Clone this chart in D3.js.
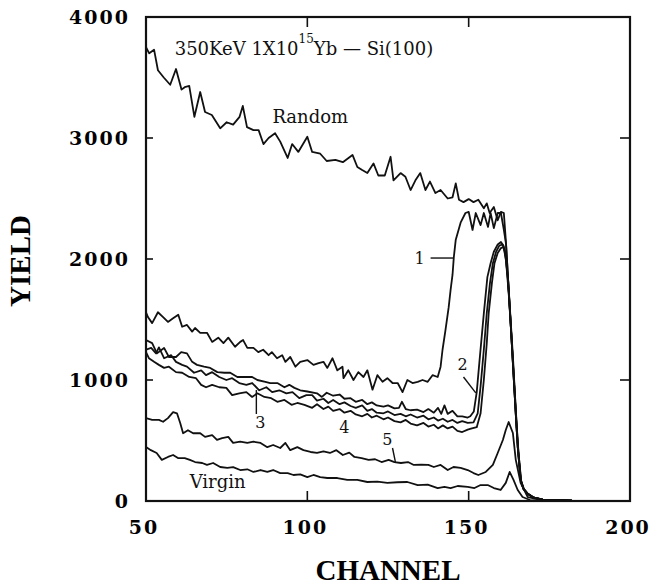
<!DOCTYPE html>
<html><head><meta charset="utf-8">
<script src="https://cdn.jsdelivr.net/npm/d3@7"></script>
<style>body{margin:0;background:#fff}</style>
</head><body><svg id="c" width="652" height="587"></svg>
<script>
const xTicks=[50,100,150,200];
const yTicks=[0,1000,2000,3000,4000];

const randomData=[[50,3750],[51,3700],[52.5,3730],[53.7,3560],[55.5,3500],[57.5,3440],[59.3,3570],[61,3400],[62,3420],[63.4,3430],[65,3175],[66.8,3380],[68.3,3215],[70.4,3190],[73,3080],[75,3130],[77,3110],[79,3175],[80,3265],[81.3,3090],[83.3,3065],[84.9,3065],[86.4,2950],[88,3000],[90,3040],[91.6,2970],[93.9,2835],[95.3,2950],[97.2,2885],[100,3010],[101.5,2885],[104,2870],[106,2810],[108.7,2820],[111,2800],[114,2860],[115.5,2760],[117,2735],[118.6,2710],[120.5,2790],[122,2690],[124,2690],[125.8,2845],[126.7,2650],[128.9,2710],[130.4,2680],[132,2570],[133.5,2650],[135,2710],[136.6,2570],[138,2640],[139.7,2545],[141.3,2570],[143.5,2500],[145,2510],[146,2625],[147,2490],[148.4,2470],[150,2495],[151.5,2470],[153,2490],[154.7,2420],[155.6,2460],[156.5,2380],[157.8,2430],[159,2320],[160,2390],[160.9,2380],[161.5,2160],[162.4,1750],[163.2,1380],[164,1000],[164.6,720],[165.2,450],[166.1,175],[167,100],[168.3,60],[170,30],[173,12],[182,3]];

const curve1Data=[[50,1560],[50.6,1520],[51.9,1470],[53.7,1560],[55.3,1520],[56.8,1480],[58.4,1510],[60,1540],[61.2,1440],[62.7,1455],[64.3,1400],[65.2,1430],[66.8,1390],[68.9,1390],[70.5,1315],[72.4,1350],[74,1305],[75.5,1350],[77.6,1275],[79.2,1315],[80.1,1330],[81.4,1265],[83.3,1265],[84.8,1230],[86.3,1250],[88,1205],[89,1230],[90.6,1180],[92.2,1205],[93.2,1150],[94.7,1190],[96.3,1110],[97.8,1150],[100,1165],[101.9,1125],[103.5,1140],[105,1150],[106.2,1100],[107.8,1180],[109.3,1080],[110.9,1110],[111.2,1015],[112.7,1080],[114.3,1000],[115.8,1065],[117.4,1025],[118.6,1080],[120.2,920],[121.7,1040],[123.3,985],[124.8,1015],[126.4,975],[128,975],[129.5,900],[131,1000],[132.6,975],[134.2,985],[135.7,1000],[137.3,985],[138.8,1040],[140.4,1025],[141.3,1110],[141.9,1250],[142.8,1410],[143.8,1600],[144.4,1745],[145,1870],[145.4,2015],[146,2160],[147.5,2300],[149,2380],[150,2390],[151.2,2240],[152.2,2380],[153.7,2280],[154.7,2380],[156,2265],[156.8,2380],[157.8,2255],[159,2380],[160,2380],[160.9,2240],[161.6,2120],[162.4,1750],[163.2,1380],[164,1000],[164.6,720],[165.2,450],[166.1,175],[167,100],[168.3,60],[170,30],[173,12],[182,3]];

const curve2Data=[[50,1330],[51.9,1305],[53.4,1220],[55.6,1265],[57.1,1190],[59.3,1190],[60.9,1230],[62.7,1220],[64.3,1150],[65.8,1125],[68,1110],[69.9,1100],[72.1,1065],[74.3,1060],[76.1,1060],[78.3,1025],[80.4,1025],[82.9,1025],[84.5,1000],[87,985],[88.5,975],[90.7,975],[92.9,940],[94.4,960],[96,935],[97.8,915],[100,905],[103,890],[104.5,860],[106,895],[108,870],[110,880],[111.5,845],[113.4,850],[115,820],[117,835],[118.6,800],[120,815],[121.5,790],[123.6,780],[125,790],[127,765],[128.4,770],[129.3,820],[130.5,760],[132,750],[134,755],[136,735],[137.5,760],[139.2,730],[140.5,770],[141.5,720],[142.5,790],[143.5,720],[145,745],[146.5,700],[148,700],[149.7,690],[150.5,700],[151.6,740],[152.5,900],[153.5,1200],[154.7,1550],[155.8,1850],[156.8,1965],[157.8,2060],[159,2120],[160,2140],[160.8,2110],[161.6,1980],[162.4,1720],[163.2,1380],[164,1000],[164.6,720],[165.2,450],[166.1,175],[167,100],[168.3,60],[170,30],[173,12],[182,3]];

const curve3Data=[[50,1250],[51.6,1265],[53.1,1220],[54,1270],[55.6,1180],[57.8,1205],[59.3,1150],[61.2,1125],[62.7,1110],[64.9,1060],[67.1,1080],[68.6,1040],[70.5,1065],[72.7,1025],[74.9,1000],[76.7,1015],[78.9,975],[81.1,960],[82.9,975],[85.1,915],[87.3,940],[89.1,900],[91.3,915],[93.5,890],[95.4,900],[97.5,850],[99.7,875],[101.5,875],[103,830],[105,845],[106.5,810],[108,835],[110,800],[111.5,815],[113.4,785],[115,770],[117,790],[118.6,745],[120,760],[121.5,730],[123.6,725],[125,740],[127,710],[128.9,720],[130.5,700],[132,715],[134,690],[136,705],[137.5,675],[139.2,690],[140.5,665],[142,680],[143.5,655],[145,670],[146.5,645],[148,660],[149.7,645],[151.5,650],[152.8,725],[153.7,950],[154.7,1250],[155.6,1550],[156.6,1800],[157.5,1965],[158.5,2060],[159.5,2110],[160.5,2120],[161.3,2060],[162.1,1850],[162.8,1570],[163.5,1250],[164.1,980],[164.7,700],[165.3,440],[166.2,170],[167,100],[168.3,60],[170,30],[173,12],[182,3]];

const curve4Data=[[50,1230],[50.9,1180],[52.5,1150],[54,1125],[55.6,1100],[57.1,1110],[59.3,1065],[61.2,1060],[63.4,1025],[65.5,1015],[67.1,960],[68.6,940],[70.5,960],[72.7,940],[74.9,935],[76.7,875],[78.9,890],[81.1,900],[82.9,860],[84.5,890],[86.7,860],[88.8,850],[90.7,820],[92.9,835],[95.1,795],[96.9,810],[99.1,795],[101.5,770],[103,800],[105,760],[106.5,780],[108,745],[110,760],[111.5,730],[113.4,745],[115,715],[117,700],[118.6,720],[120,690],[121.5,705],[123.6,675],[125,690],[127,660],[128.9,650],[130.5,670],[132,640],[134,625],[136,645],[137.5,615],[139.2,630],[140.5,600],[142,625],[143.5,600],[145,615],[146.5,580],[148,570],[149.7,590],[151,600],[152.5,610],[153.7,725],[154.7,1000],[155.6,1300],[156.2,1550],[157.2,1800],[158,1965],[159,2050],[160,2090],[160.8,2100],[161.5,2020],[162.3,1800],[163,1500],[163.7,1200],[164.3,900],[164.9,620],[165.5,380],[166.3,160],[167.2,95],[168.5,55],[170,28],[173,12],[182,3]];

const curve5Data=[[50,685],[51.9,670],[54,670],[55.3,655],[56.8,685],[58.4,735],[59.6,725],[60.6,645],[61.5,560],[63,585],[64.6,560],[66.8,560],[68.3,530],[70.5,545],[72,505],[73.6,520],[75.5,530],[77,480],[79.2,490],[81.4,480],[83.3,490],[85.5,480],[87.6,445],[89.4,463],[91.6,438],[93.2,480],[94.7,420],[96.9,445],[98.8,420],[101,405],[103,397],[105,410],[107,397],[109,420],[111,380],[113,400],[114.6,364],[116.8,355],[119,340],[121,345],[123,322],[125.2,340],[127,322],[129,314],[131.2,322],[133,298],[135.3,300],[137.5,298],[139.2,281],[141.3,298],[143.5,256],[145.3,281],[147.5,273],[149.7,256],[151.5,231],[153,215],[155.3,240],[157.5,298],[159,397],[160.6,504],[161.5,587],[162.4,653],[163.7,562],[164.6,340],[166.1,150],[168.3,33],[172,12],[182,3]];

const virginData=[[50,446],[51.5,420],[53.3,397],[54.9,340],[56.8,364],[58.4,380],[59.9,355],[62,355],[63.6,340],[65.2,322],[67.4,314],[68.9,298],[70.8,314],[73,281],[75.2,273],[77,280],[79.2,256],[81.4,262],[83.3,240],[85.5,256],[87.6,240],[89.4,256],[91.6,231],[93.9,231],[95.7,215],[97.8,220],[100,198],[101.9,215],[104,198],[106.2,190],[109.3,190],[112.4,174],[115.5,174],[118.6,157],[121.7,160],[124.8,150],[127.9,155],[131,157],[134.2,132],[137.3,135],[140.4,107],[142.5,116],[144.4,107],[146.6,124],[149.7,116],[151.8,107],[153.7,132],[155.9,132],[157.8,107],[159.9,91],[161.5,150],[162.7,240],[163.9,174],[165.2,91],[166.7,33],[169,8],[182,3]];

const seriesList=[randomData,curve1Data,curve2Data,curve3Data,curve4Data,curve5Data,virginData];

const svg=d3.select("#c");
const x=d3.scaleLinear().domain([50,200]).range([146,630]);
const y=d3.scaleLinear().domain([0,4000]).range([501,17]);

svg.append("defs").append("clipPath").attr("id","clip")
  .append("rect").attr("x",x(50)).attr("y",y(4000)).attr("width",x(200)-x(50)).attr("height",y(0)-y(4000));

const line=d3.line().x(d=>x(d[0])).y(d=>y(d[1]));
const g=svg.append("g").attr("clip-path","url(#clip)");
g.selectAll("path.s").data(seriesList).join("path").attr("class","s")
  .attr("d",line).attr("fill","none").attr("stroke","#111").attr("stroke-width",1.8).attr("stroke-linejoin","round");

// frame
svg.append("rect").attr("x",x(50)).attr("y",y(4000)).attr("width",x(200)-x(50)).attr("height",y(0)-y(4000))
  .attr("fill","none").attr("stroke","#111").attr("stroke-width",2.2);

// ticks
const inner=xTicks.slice(1,-1);
svg.selectAll("line.xb").data(inner).join("line").attr("x1",d=>x(d)).attr("x2",d=>x(d)).attr("y1",y(0)).attr("y2",y(0)-10).attr("stroke","#111").attr("stroke-width",1.6);
svg.selectAll("line.xt").data(inner).join("line").attr("x1",d=>x(d)).attr("x2",d=>x(d)).attr("y1",y(4000)).attr("y2",y(4000)+10).attr("stroke","#111").attr("stroke-width",1.6);
const yin=yTicks.slice(1,-1);
svg.selectAll("line.yl").data(yin).join("line").attr("x1",x(50)).attr("x2",x(50)+7).attr("y1",d=>y(d)).attr("y2",d=>y(d)).attr("stroke","#111").attr("stroke-width",1.6);
svg.selectAll("line.yr").data(yin).join("line").attr("x1",x(200)).attr("x2",x(200)-10).attr("y1",d=>y(d)).attr("y2",d=>y(d)).attr("stroke","#111").attr("stroke-width",1.6);

// tick labels
const tickFont={"font-family":"'DejaVu Serif', serif","font-weight":"bold","font-size":"19px","letter-spacing":"2px"};
const xl=svg.selectAll("text.xl").data(xTicks).join("text").attr("x",d=>x(d)-2).attr("y",534).attr("text-anchor","middle").text(d=>d);
const yl=svg.selectAll("text.yl").data(yTicks).join("text").attr("x",x(50)-16).attr("y",d=>y(d)+7).attr("text-anchor","end").text(d=>d);
[xl,yl].forEach(s=>Object.entries(tickFont).forEach(([k,v])=>s.attr(k,v)));

// axis titles
svg.append("text").attr("x",388).attr("y",580).attr("text-anchor","middle")
  .attr("font-family","'Liberation Serif', serif").attr("font-weight","bold").attr("font-size","29px").text("CHANNEL");
svg.append("text").attr("transform","translate(30,261) rotate(-90)").attr("text-anchor","middle")
  .attr("font-family","'Liberation Serif', serif").attr("font-weight","bold").attr("font-size","29px").text("YIELD");

// annotations
const ann=svg.append("g").attr("font-family","'DejaVu Serif', serif").attr("font-size","18px").attr("fill","#111");
const t=ann.append("text").attr("x",x(58.9)).attr("y",y(3686));
t.append("tspan").text("350KeV 1X10");
t.append("tspan").attr("font-size","12px").attr("dy",-12).text("15");
t.append("tspan").attr("dy",12).text("Yb — Si(100)");
ann.append("text").attr("x",x(100.9)).attr("y",y(3124)).attr("text-anchor","middle").text("Random");
ann.append("text").attr("x",x(72.2)).attr("y",y(107)).attr("text-anchor","middle").text("Virgin");
ann.append("text").attr("x",x(134.8)).attr("y",y(1960)).attr("text-anchor","middle").attr("font-size","16px").text("1");
ann.append("text").attr("x",x(148.1)).attr("y",y(1083)).attr("text-anchor","middle").attr("font-size","16px").text("2");
ann.append("text").attr("x",x(85.4)).attr("y",y(603)).attr("text-anchor","middle").attr("font-size","16px").text("3");
ann.append("text").attr("x",x(111.5)).attr("y",y(562)).attr("text-anchor","middle").attr("font-size","16px").text("4");
ann.append("text").attr("x",x(124.8)).attr("y",y(463)).attr("text-anchor","middle").attr("font-size","16px").text("5");
const leaders=[[[138.2,2008],[145.3,2008]],[[148.4,1025],[152.2,893]],[[84.2,917],[84.2,719]],[[126.4,438],[127.3,322]]];
svg.selectAll("path.ld").data(leaders).join("path").attr("class","ld").attr("d",line).attr("fill","none").attr("stroke","#111").attr("stroke-width",1.4);
</script></body></html>
